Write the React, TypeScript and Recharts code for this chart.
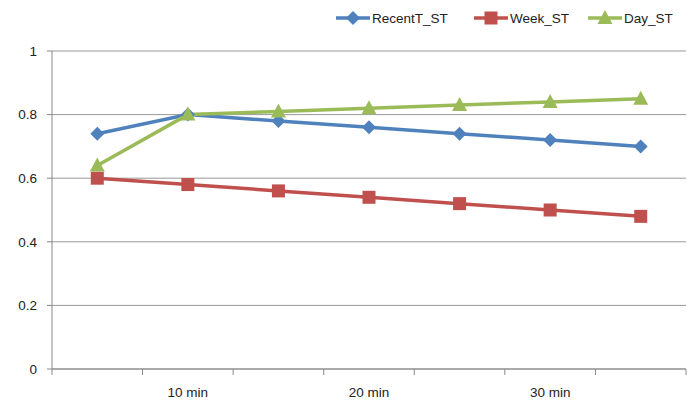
import React from 'react';
import { LineChart, Line, XAxis, YAxis, CartesianGrid } from 'recharts';

// Chart values
const categories = ['5 min', '10 min', '15 min', '20 min', '25 min', '30 min', '35 min'];
const shownLabels = ['', '10 min', '', '20 min', '', '30 min', ''];
const recentT = [0.74, 0.8, 0.78, 0.76, 0.74, 0.72, 0.7];
const week = [0.6, 0.58, 0.56, 0.54, 0.52, 0.5, 0.48];
const day = [0.64, 0.8, 0.81, 0.82, 0.83, 0.84, 0.85];
const yTicks = [0, 0.2, 0.4, 0.6, 0.8, 1];

const seriesNames = ['RecentT_ST', 'Week_ST', 'Day_ST'];
const colors = ['#4F81BD', '#C0504D', '#9BBB59'];

const data = categories.map((c, i) => ({
    name: c,
    RecentT_ST: recentT[i],
    Week_ST: week[i],
    Day_ST: day[i],
}));

const W = 687;
const H = 409;
const margin = { top: 51, right: 1, left: 0, bottom: 0 };
const yAxisWidth = 52;
const plotWidth = W - margin.left - margin.right - yAxisWidth;
const band = plotWidth / categories.length;
const font = '"Liberation Sans Narrow", "Liberation Sans", Arial, sans-serif';
const fs = 13.5;

const Diamond = (props: any) => {
    const { cx, cy, fill } = props;
    if (cx == null || cy == null) return null;
    const r = 7;
    return <path d={`M${cx},${cy - r}L${cx + r},${cy}L${cx},${cy + r}L${cx - r},${cy}Z`} fill={fill} />;
};

const Square = (props: any) => {
    const { cx, cy, fill } = props;
    if (cx == null || cy == null) return null;
    const s = 6.5;
    return <rect x={cx - s} y={cy - s} width={s * 2} height={s * 2} fill={fill} />;
};

const Triangle = (props: any) => {
    const { cx, cy, fill } = props;
    if (cx == null || cy == null) return null;
    return <path d={`M${cx},${cy - 8}L${cx + 7.5},${cy + 6}L${cx - 7.5},${cy + 6}Z`} fill={fill} />;
};

const markers = [Diamond, Square, Triangle];

// x-axis tick: boundary marks between categories like the original
const XTick = (props: any) => {
    const { x, y, payload, index } = props;
    const last = index === categories.length - 1;
    return (
        <g>
            <line x1={x - band / 2} x2={x - band / 2} y1={y} y2={y + 6} stroke="#888" />
            {last && <line x1={x + band / 2} x2={x + band / 2} y1={y} y2={y + 6} stroke="#888" />}
            <text x={x} y={y + 28} textAnchor="middle" fontSize={fs} fill="#222" fontFamily={font}>
                {shownLabels[categories.indexOf(payload.value)]}
            </text>
        </g>
    );
};

const legendX = [336, 474, 588];

const App: React.FC = () => {
    return (
        <div style={{ position: 'absolute', left: 0, top: 0, width: W, height: H, background: '#fff' }}>
            <LineChart width={W} height={H} data={data} margin={margin}>
                <CartesianGrid vertical={false} stroke="#999" strokeWidth={1} />
                <XAxis
                    dataKey="name"
                    height={40}
                    padding={{ left: band / 2, right: band / 2 }}
                    stroke="#888"
                    tickLine={false}
                    tickSize={0}
                    tickMargin={0}
                    interval={0}
                    tick={<XTick />}
                />
                <YAxis
                    width={yAxisWidth}
                    domain={[0, 1]}
                    ticks={yTicks}
                    stroke="#888"
                    tickSize={5}
                    tickMargin={10}
                    tick={{ fill: '#222', fontSize: fs, fontFamily: font }}
                />
                {seriesNames.map((s, i) => {
                    const M = markers[i];
                    return (
                        <Line
                            key={s}
                            dataKey={s}
                            stroke={colors[i]}
                            strokeWidth={3.5}
                            dot={<M fill={colors[i]} />}
                            activeDot={false}
                            isAnimationActive={false}
                        />
                    );
                })}
                {seriesNames.map((s, i) => {
                    const M = markers[i];
                    const lx = legendX[i];
                    return (
                        <g key={'lg-' + s}>
                            <line x1={lx} x2={lx + 34} y1={18} y2={18} stroke={colors[i]} strokeWidth={3.5} />
                            <M cx={lx + 17} cy={18} fill={colors[i]} />
                            <text x={lx + 36} y={23} fontSize={fs} fill="#222" fontFamily={font}>
                                {s}
                            </text>
                        </g>
                    );
                })}
            </LineChart>
        </div>
    );
};

export default App;
